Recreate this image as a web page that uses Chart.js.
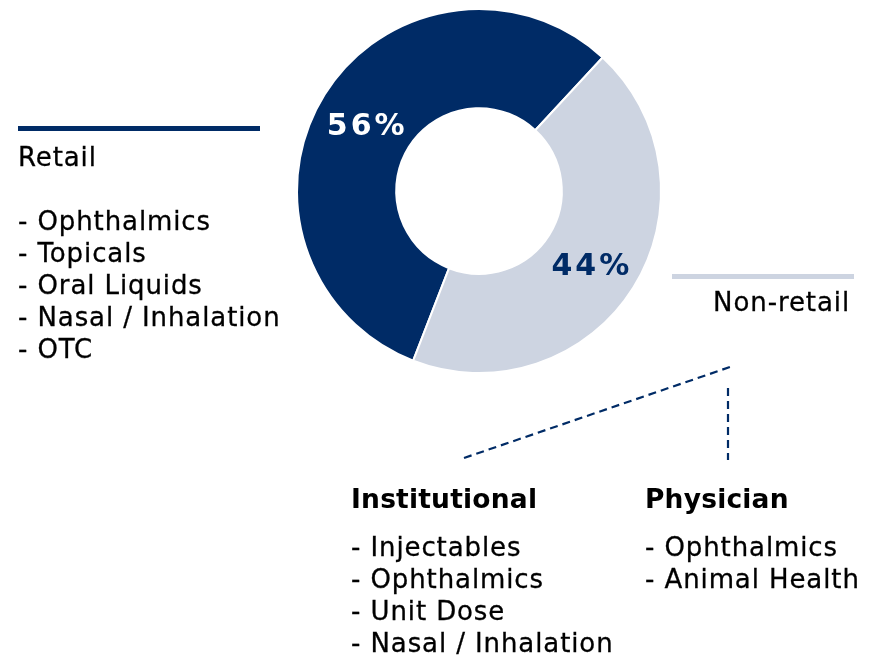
<!DOCTYPE html>
<html>
<head>
<meta charset="utf-8">
<script src="https://cdn.jsdelivr.net/npm/chart.js@4"></script>
<style>
  body { margin: 0; background: #fff; }
  #wrap { position: relative; width: 870px; height: 655px; overflow: hidden; }
  #chart { position: absolute; left: 0; top: 0; }
  .txt {
    position: absolute;
    font-family: "DejaVu Sans", Verdana, sans-serif;
    font-size: 26px;
    line-height: 32px;
    letter-spacing: 0.9px;
    color: #000;
    -webkit-text-stroke: 0.3px #000;
    white-space: pre;
  }
  .txt.bold { font-size: 26.5px; font-weight: bold; letter-spacing: 0.2px; -webkit-text-stroke: 0; }
</style>
</head>
<body>
<div id="wrap">
  <canvas id="chart" width="870" height="655"></canvas>
</div>
<script>
// data
const segments = ["Retail", "Non-retail"];
const shares = [56, 44];
const segmentColors = ["#002B66", "#CDD4E1"];
const labelColors = ["#ffffff", "#002B66"];

const retailItems = ["Ophthalmics", "Topicals", "Oral Liquids", "Nasal / Inhalation", "OTC"];
const institutionalItems = ["Injectables", "Ophthalmics", "Unit Dose", "Nasal / Inhalation"];
const physicianItems = ["Ophthalmics", "Animal Health"];

const NAVY = "#002B66";
const LIGHT = "#CDD4E1";

// text blocks (html), baseline sits ~25px below top at 26px / 32px line-height
const wrap = document.getElementById("wrap");
function addText(text, x, baseline, opts = {}) {
  const d = document.createElement("div");
  d.className = "txt" + (opts.bold ? " bold" : "");
  d.textContent = text;
  d.style.top = baseline - (opts.bold ? 25.2 : 25) + "px";
  if (opts.right) {
    d.style.right = 870 - x + "px";
  } else {
    d.style.left = x + "px";
  }
  wrap.appendChild(d);
}

addText(segments[0], 18, 166);
retailItems.forEach((t, i) => addText("- " + t, 18, 230 + i * 32));

addText(segments[1], 850, 311, { right: true });

addText("Institutional", 351, 508, { bold: true });
institutionalItems.forEach((t, i) => addText("- " + t, 351, 556 + i * 32));

addText("Physician", 645, 508, { bold: true });
physicianItems.forEach((t, i) => addText("- " + t, 645, 556 + i * 32));

// lines + percentage labels
const extras = {
  id: "extras",
  afterDraw(chart) {
    const ctx = chart.ctx;
    ctx.save();

    // legend bars
    ctx.lineWidth = 5;
    ctx.strokeStyle = NAVY;
    ctx.beginPath();
    ctx.moveTo(18, 128.5);
    ctx.lineTo(260, 128.5);
    ctx.stroke();

    ctx.strokeStyle = LIGHT;
    ctx.beginPath();
    ctx.moveTo(672, 276.5);
    ctx.lineTo(854, 276.5);
    ctx.stroke();

    // dashed connectors
    ctx.lineWidth = 2.2;
    ctx.strokeStyle = NAVY;
    ctx.setLineDash([8, 5]);
    ctx.beginPath();
    ctx.moveTo(464, 458);
    ctx.lineTo(730, 367);
    ctx.stroke();
    ctx.beginPath();
    ctx.moveTo(728, 388);
    ctx.lineTo(728, 460);
    ctx.stroke();
    ctx.setLineDash([]);

    // percentages
    const meta = chart.getDatasetMeta(0);
    ctx.font = "bold 30px 'DejaVu Sans'";
    ctx.letterSpacing = "3px";
    ctx.textAlign = "center";
    ctx.textBaseline = "alphabetic";
    meta.data.forEach((arc, i) => {
      const p = arc.tooltipPosition();
      ctx.fillStyle = labelColors[i];
      ctx.fillText(shares[i] + "%", p.x + 0.5, p.y + 14);
    });
    ctx.restore();
  },
};

new Chart(document.getElementById("chart"), {
  type: "doughnut",
  data: {
    labels: segments,
    datasets: [
      {
        data: shares,
        backgroundColor: segmentColors,
        borderColor: "#ffffff",
        borderWidth: 2,
      },
    ],
  },
  options: {
    responsive: false,
    animation: false,
    rotation: 201.2,
    cutout: "45.5%",
    layout: {
      padding: { left: 296, top: 8, right: 208, bottom: 281 },
    },
    plugins: {
      legend: { display: false },
      tooltip: { enabled: false },
    },
  },
  plugins: [extras],
});
</script>
</body>
</html>
